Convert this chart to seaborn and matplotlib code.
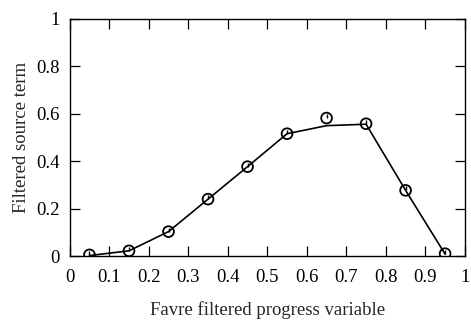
import matplotlib
matplotlib.use('Agg')
import matplotlib.pyplot as plt
import pandas as pd
import seaborn as sns

# filtered progress variable bins
progress = [0.05, 0.15, 0.25, 0.35, 0.45, 0.55, 0.65, 0.75, 0.85, 0.95]
# symbols (DNS)
dns_source = [0.005, 0.022, 0.103, 0.240, 0.377, 0.516, 0.582, 0.558, 0.277, 0.010]
# line (model)
model_source = [0.002, 0.022, 0.103, 0.240, 0.377, 0.516, 0.550, 0.556, 0.277, 0.008]

df = pd.DataFrame({'c': progress, 'dns': dns_source, 'model': model_source})

sns.set_style('ticks')
plt.rcParams['font.family'] = ['Liberation Serif', 'DejaVu Serif']

fig, ax = plt.subplots(figsize=(4.71, 3.27), dpi=100)
fig.subplots_adjust(left=0.148, right=0.987, top=0.942, bottom=0.217)

sns.lineplot(data=df, x='c', y='model', color='black', linewidth=1.2, ax=ax)
ax.errorbar(df['c'], df['dns'], yerr=[[0] * len(df), [0.017] * len(df)],
            fmt='none', ecolor='black', elinewidth=1.0)
sns.scatterplot(data=df, x='c', y='dns', marker='o', s=60, facecolor='none',
                edgecolor='black', linewidth=1.3, ax=ax, zorder=3)

ax.set_xlim(0, 1)
ax.set_ylim(0, 1)
ax.set_xticks([i / 10 for i in range(11)])
ax.set_xticklabels(['0'] + ['0.%d' % i for i in range(1, 10)] + ['1'])
ax.set_yticks([0, 0.2, 0.4, 0.6, 0.8, 1])
ax.set_yticklabels(['0', '0.2', '0.4', '0.6', '0.8', '1'])
ax.tick_params(direction='in', length=7, width=0.9, top=True, right=True,
               labelsize=13.5, colors='black')
ax.tick_params(axis='x', pad=9)
ax.tick_params(axis='y', pad=7)
for s in ax.spines.values():
    s.set_linewidth(1.0)
    s.set_color('black')

ax.set_xlabel('Favre filtered progress variable', fontsize=13.5, labelpad=11)
ax.set_ylabel('Filtered source term', fontsize=13.5, labelpad=5)

fig.savefig('out.png', dpi=100)
